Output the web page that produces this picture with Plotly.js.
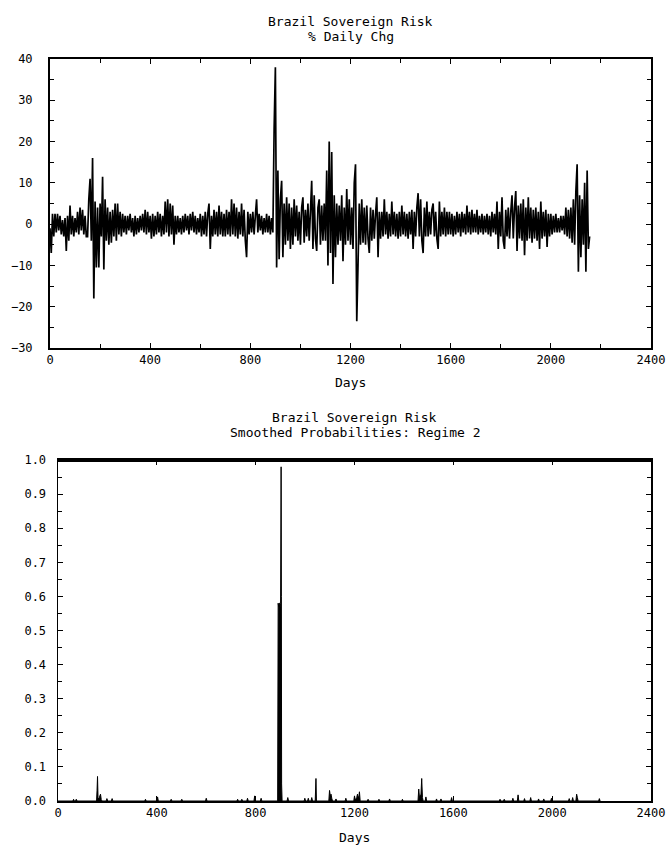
<!DOCTYPE html>
<html><head><meta charset="utf-8">
<script src="https://cdn.plot.ly/plotly-3.0.1.min.js"></script>
<style>html,body{margin:0;padding:0;background:#fff}#chart{width:669px;height:848px}</style>
</head><body><div id="chart"></div>
<script>
// % daily change, one value every 5 days starting at day 0
const dailyChg = [
 -1, -7, 2.5, -3, 2.5, -2, 2.5, -1.5, 2, -2.5, 1, -3, 1.5, -6.5, 2, -4, 4.5, -2.5, 2, -3,
 1.5, -2, 3, -2.5, 4, -1.5, 3.5, -2.5, 2, -3, -3, 6, 11, -4, 16, -18, 5.5, -10.5, 4, -10.5,
 5, -3, 11.5, -11, 6, -4, 4, -5, 3, -4.5, 3.5, -3, 5, -4, 5, -2.5, 3, -3, 2.5, -2,
 2, -2.5, 2, -1.5, 2.5, -2, 1.5, -3, 2, -2.5, 1.5, -2, 2, -1.5, 2.5, -2, 3.5, -2.5, 3, -2,
 2, -3.5, 2.5, -3, 2, -2.5, 3, -2, 2.5, -3, 2, -2.5, 5.5, -2, 6, -3, 5, -2.5, 4.5, -5,
 2, -2.5, 2, -2, 1.5, -2.5, 2, -2, 2.5, -1.5, 2, -2.5, 2.5, -1.5, 3, -2, 2, -2.5, 1.5, -2,
 2.5, -3, 2, -2.5, 3, -3, 2.5, 5, -6, 2, -3, 3.5, -2.5, 3, -3, 4.5, -2.5, 3, -3, 2.5,
 -3, 3.5, -2.5, 3, -3, 6, -2.5, 5, -3, 4, -3.5, 3, -2.5, 5, -3, 3.5, -4, -8, 3, -2.5,
 2.5, -2, 3, -2.5, 2, 6, -2, 2.5, -1.5, 2, -2.5, 1.5, -2, 2.5, -2, 2, -2.5, 1.5, -2, 23,
 38, -10.5, 13, -8.5, 6, 10.5, -8, 5, -5, 6.5, -4, 5, -6, 4, -5, 6, -3, 4.5, -4, 3,
 -5, 4, 6.5, -4.5, 3.5, -3, 5, -4, 3, 10.5, -6, 7, -3.5, -6.5, 4, 6, -5, 4.5, -4, 5,
 -4, 13, -10, 20, -7, 17.5, -14.5, 7, -8, 5, -5, 4.5, -4, 7, -9, 4, -5, 8.5, -4, 6,
 -5, 4, -6, 10, 14.5, -23.5, -10, 5, -5, 6, -4.5, 4, -5, 4.5, -3.5, -7, 4, -4, 3.5, -3.5,
 2.5, 6.5, -8, 3, -3.5, 3, -3, 6, -2.5, 3, -3.5, 2.5, -3, 5.5, -2.5, 3, -3, 2.5, -3.5, 3,
 -3, 4.5, -2.5, 3, -3, 2.5, -3.5, 3, -2.5, 3.5, -6, 3, -3, 4, 7.5, -3, 6, -4, -7, 4,
 -3, 5.5, -3, 3, -2.5, 3.5, 5, -3, 3, -3.5, -6, 5.5, -3, 3, -2.5, 4, -3, 3, -2.5, 3,
 -2.5, 2.5, -3, 2, -2.5, 3, -2, 2.5, -3, 3, -2, 2.5, -2.5, 4.5, -2, 3, -2.5, 3.5, -2, 2.5,
 -2, 3.5, -2.5, 2, -2, 2.5, -2.5, 2, -2, 2.5, -2.5, 2, -3, 3, -2, 2.5, -2.5, 5.5, -6, 3,
 -3, 6.5, -4, -6, 3.5, -3, 4, -3.5, 3, 7, -3.5, 4, 8, -6.5, 4.5, -3.5, 5, -4, 6, -7.5,
 4, -4, 6.5, -3.5, 4, -4.5, 3.5, -3.5, 4, -4, 3, -6, 5.5, -3.5, 3, -3, 3.5, -5.5, 2.5, -3,
 2.5, -2.5, 2, -2, 2.5, -2, 1.5, -2, 2, -1.5, 2, -2.5, 4, -3, 3.5, -3.5, 4, -4.5, 6, -5,
 8, 14.5, -11.5, 7, -8, 6, -5, 10, -11.5, 13, -6, -3
];
const dayStep = 5;

// smoothed probabilities of regime 2
const probDays = [0, 60,63,66, 71,74,77, 156,158,160,162,165,168,172,175,178, 195,198,201, 216,219,222, 351,354,357, 400,403,406, 455,458,461, 498,501,504, 597,600,603, 724,727,730, 741,744,747, 764,767,770, 793,796,799, 819,822,825,
 889,891,893,895,897,899,901,903,904,905,907, 927,930,933, 996,999,1002, 1010,1013,1016, 1024,1027,1030, 1041,1044,1046,
 1096,1099,1102,1105,1108,1111, 1122,1125,1128, 1162,1165,1168, 1197,1200,1203,1209,1212,1215,1218,1220,1223, 1252,1255,1258, 1296,1299,1302, 1339,1342,1345, 1391,1394,1397,
 1457,1460,1463,1469,1472,1475,1478,1486,1489,1492, 1529,1532,1535, 1547,1550,1553, 1590,1593,1596, 1786,1789,1792, 1803,1806,1809, 1838,1841,1844, 1859,1862,1865, 1885,1888,1891,
 1910,1913,1916, 1942,1945,1948, 1963,1966,1969, 1994,1997,2000, 2066,2069,2072, 2080,2083,2086, 2096,2099,2102,2105, 2188,2191,2194];
const probVals = [0, 0,0.005,0, 0,0.005,0, 0,0.03,0.072,0.01,0.005,0.012,0.02,0.004,0, 0,0.007,0, 0,0.007,0, 0,0.005,0, 0,0.012,0, 0,0.005,0, 0,0.005,0, 0,0.008,0, 0,0.005,0, 0,0.005,0, 0,0.008,0, 0,0.015,0, 0,0.008,0,
 0,0.58,0.57,0.58,0.58,0.57,0.58,0.98,0.6,0.05,0, 0,0.01,0, 0,0.008,0, 0,0.008,0, 0,0.01,0, 0,0.066,0,
 0,0.031,0.015,0.02,0.008,0, 0,0.006,0, 0,0.008,0, 0,0.015,0.003,0.01,0.02,0.008,0.015,0.027,0, 0,0.005,0, 0,0.005,0, 0,0.006,0, 0,0.005,0,
 0,0.035,0.01,0.02,0.066,0.01,0,0,0.012,0, 0,0.006,0, 0,0.006,0, 0,0.01,0, 0,0.005,0, 0,0.005,0, 0,0.008,0, 0,0.018,0, 0,0.007,0,
 0,0.01,0, 0,0.006,0, 0,0.006,0, 0,0.008,0, 0,0.007,0, 0,0.01,0, 0,0.02,0.01,0, 0,0.007,0];

const titleTop = ['Brazil Sovereign Risk', '% Daily Chg'];
const titleBottom = ['Brazil Sovereign Risk', 'Smoothed Probabilities: Regime 2'];
const xLabel = 'Days';

const W = 669, H = 848;
const px = v => v / W;
const py = v => 1 - v / H;
const FONT = 'DejaVu Sans Mono, monospace';
const tf = {family: FONT, size: 12, color: '#000'};

const common = {
  showgrid: false, zeroline: false, showline: true, linecolor: '#000',
  ticks: 'inside', ticklen: 5, tickwidth: 1, tickcolor: '#000', mirror: 'ticks',
  tickfont: tf, fixedrange: true, automargin: false
};

const traces = [
  {type: 'scatter', mode: 'lines', x0: 0, dx: dayStep, y: dailyChg,
   line: {color: '#000', width: 1.7, simplify: false}, xaxis: 'x', yaxis: 'y', hoverinfo: 'skip'},
  {type: 'scatter', mode: 'lines', x: probDays, y: probVals, fill: 'tozeroy', fillcolor: '#000',
   line: {color: '#000', width: 1, simplify: false}, xaxis: 'x2', yaxis: 'y2', hoverinfo: 'skip'}
];

const ann = (text, x, y) => ({text, x: px(x), y: py(y), xref: 'paper', yref: 'paper',
  xanchor: 'center', yanchor: 'middle', showarrow: false, font: {family: FONT, size: 13, color: '#000'}});

const layout = {
  width: W, height: H, margin: {l: 0, r: 0, t: 0, b: 0},
  paper_bgcolor: '#fff', plot_bgcolor: '#fff', showlegend: false,
  xaxis: Object.assign({}, common, {domain: [px(50), px(651)], range: [0, 2400], tick0: 0, dtick: 400,
    linewidth: 2, anchor: 'y', ticklabelstandoff: 0,
    minor: {dtick: 200, ticks: 'inside', ticklen: 4, tickcolor: '#000', showgrid: false}}),
  yaxis: Object.assign({}, common, {domain: [py(348), py(59)], range: [-30, 40], tick0: 0, dtick: 10,
    linewidth: 2, anchor: 'x', ticklabelstandoff: 13,
    minor: {dtick: 5, ticks: 'inside', ticklen: 4, tickcolor: '#000', showgrid: false}}),
  xaxis2: Object.assign({}, common, {domain: [px(58), px(651)], range: [0, 2400], tick0: 0, dtick: 400,
    linewidth: 2, anchor: 'y2', ticklabelstandoff: 0}),
  yaxis2: Object.assign({}, common, {domain: [py(801), py(460)], range: [0, 1], tick0: 0, dtick: 0.1,
    tickformat: '.1f', linewidth: 1.5, anchor: 'x2', ticklabelstandoff: 8,
    minor: {dtick: 0.05, ticks: 'inside', ticklen: 4, tickcolor: '#000', showgrid: false}}),
  shapes: [
    {type: 'line', xref: 'x2 domain', yref: 'y2', x0: 0, x1: 1, y0: 1, y1: 1, line: {color: '#000', width: 4}}
  ],
  annotations: [
    ann(titleTop[0], 350.5, 21), ann(titleTop[1], 350.5, 36),
    ann(xLabel, 350.5, 382),
    ann(titleBottom[0], 354.5, 417), ann(titleBottom[1], 354.5, 433),
    ann(xLabel, 354.5, 837)
  ]
};

Plotly.newPlot('chart', traces, layout, {staticPlot: true, displayModeBar: false});
</script>
</body></html>
